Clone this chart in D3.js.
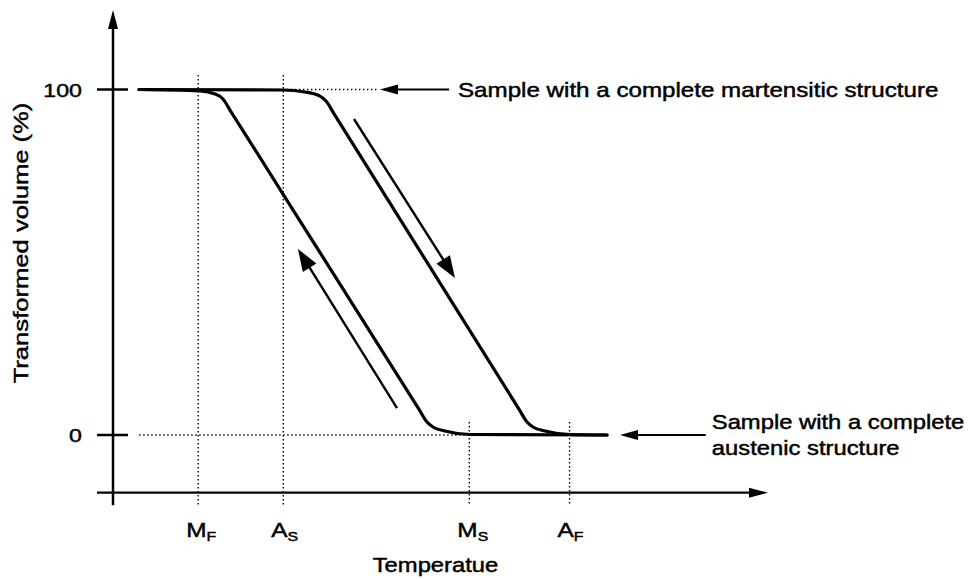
<!DOCTYPE html>
<html><head><meta charset="utf-8">
<script src="https://cdn.jsdelivr.net/npm/d3@7"></script>
<style>body{margin:0;background:#fff}svg{display:block}</style>
</head><body><svg id="c" width="968" height="579"></svg>
<script>
// ---- data ----
const yTicks = [0, 100];
const yTickLabels = ["0", "100"];
const markNames = ["M", "A", "M", "A"];
const markSubs = ["F", "S", "S", "F"];
const markTemps = [13.0, 26.0, 54.4, 69.7];
const markGuideTop = [104.2, 104.2, 3.76, 3.76];
const coolingT = [3.97, 13.28, 15.57, 16.79, 18.0, 32.0, 46.7, 47.94, 48.85, 50.69, 54.5, 75.42];
const coolingV = [100, 99.57, 98.7, 97.25, 93.62, 51.6, 7.48, 3.76, 2.32, 1.16, 0.14, 0];
const heatingT = [3.97, 25.95, 29.31, 31.6, 32.52, 33.8, 48.0, 62.0, 63.21, 64.12, 65.95, 69.77, 75.42];
const heatingV = [100, 99.86, 99.28, 98.1, 96.67, 92.79, 49.81, 7.42, 3.76, 2.32, 1.16, 0.14, 0];
const heatArrowT = [36.79, 52.21], heatArrowV = [91.46, 45.44];
const coolArrowT = [43.36, 28.24], coolArrowV = [7.81, 53.84];
const martArrowT = [51.3, 40.76], martArrowV = [100, 100];
const austArrowT = [90.5, 77.4], austArrowV = [0, 0];
const guide100T = [3.97, 40.3], guide0T = [4.0, 54.5];
const xAxisT = [-2.44, 100], xAxisV = -16.7;
const yAxisV = [-20.3, 123];
const annotMart = ["Sample with a complete martensitic structure"];
const annotAust = ["Sample with a complete", "austenic structure"];
const xTitle = "Temperatue";
const yTitle = "Transformed volume (%)";

// ---- scales ----
const x = d3.scaleLinear().domain([0, 100]).range([113, 768]);
const y = d3.scaleLinear().domain([0, 100]).range([435, 89.5]);
const svg = d3.select("#c");
const FONT = "'Liberation Sans', Arial, sans-serif";
const SX = 1.22;

function head(x1, y1, x2, y2, len, hw) {
  const dx = x2 - x1, dy = y2 - y1, L = Math.hypot(dx, dy);
  const ux = dx / L, uy = dy / L, bx = x2 - ux * len, by = y2 - uy * len;
  return `M${x2},${y2}L${bx - uy * hw},${by + ux * hw}L${bx + uy * hw},${by - ux * hw}Z`;
}
function arrow(x1, y1, x2, y2, w, len, hw) {
  const dx = x2 - x1, dy = y2 - y1, L = Math.hypot(dx, dy);
  const ex = x2 - dx / L * len * 0.8, ey = y2 - dy / L * len * 0.8;
  svg.append("line").attr("x1", x1).attr("y1", y1).attr("x2", ex).attr("y2", ey)
    .attr("stroke", "#000").attr("stroke-width", w);
  svg.append("path").attr("d", head(x1, y1, x2, y2, len, hw)).attr("fill", "#000");
}
function txt(px, py, s, size, anchor, rot) {
  const t = svg.append("text")
    .attr("transform", `translate(${px},${py})${rot ? " rotate(" + rot + ")" : ""} scale(${SX},1)`)
    .attr("font-family", FONT).attr("font-size", size).attr("text-anchor", anchor || "start")
    .attr("fill", "#000").attr("stroke", "#000").attr("stroke-width", 0.45).text(s);
  return t;
}
const dotted = { stroke: "#000", "stroke-width": 1.4, "stroke-dasharray": "1.4 2.6" };
function dline(x1, y1, x2, y2) {
  const l = svg.append("line").attr("x1", x1).attr("y1", y1).attr("x2", x2).attr("y2", y2);
  for (const k in dotted) l.attr(k, dotted[k]);
}

// ---- guides ----
dline(x(guide100T[0]), y(100), x(guide100T[1]), y(100));
dline(x(guide0T[0]), y(0), x(guide0T[1]), y(0));
markTemps.forEach((t, i) => dline(x(t), y(markGuideTop[i]), x(t), y(yAxisV[0])));

// ---- axes ----
svg.append("line").attr("x1", x(0)).attr("x2", x(0)).attr("y1", y(yAxisV[0])).attr("y2", y(yAxisV[1]) + 14)
  .attr("stroke", "#000").attr("stroke-width", 2.5);
svg.append("path").attr("d", head(x(0), y(yAxisV[0]), x(0), y(yAxisV[1]), 19, 5)).attr("fill", "#000");
svg.append("line").attr("x1", x(xAxisT[0])).attr("x2", x(xAxisT[1]) - 14).attr("y1", y(xAxisV)).attr("y2", y(xAxisV))
  .attr("stroke", "#000").attr("stroke-width", 2.2);
svg.append("path").attr("d", head(x(xAxisT[0]), y(xAxisV), x(xAxisT[1]), y(xAxisV), 19, 5)).attr("fill", "#000");
yTicks.forEach((v, i) => {
  svg.append("line").attr("x1", x(0) - 16).attr("x2", x(0) + 15).attr("y1", y(v)).attr("y2", y(v))
    .attr("stroke", "#000").attr("stroke-width", 2.5);
  txt(x(0) - 31, y(v) + 7, yTickLabels[i], 19, "end");
});

// ---- curves ----
const line = d3.line().x(d => x(d[0])).y(d => y(d[1])).curve(d3.curveMonotoneX);
[[coolingT, coolingV], [heatingT, heatingV]].forEach(([T, V]) => {
  svg.append("path").attr("d", line(T.map((t, i) => [t, V[i]])))
    .attr("fill", "none").attr("stroke", "#000").attr("stroke-width", 3.2)
    .attr("stroke-linecap", "round").attr("stroke-linejoin", "round");
});

// ---- direction arrows ----
arrow(x(heatArrowT[0]), y(heatArrowV[0]), x(heatArrowT[1]), y(heatArrowV[1]), 2.4, 22, 8);
arrow(x(coolArrowT[0]), y(coolArrowV[0]), x(coolArrowT[1]), y(coolArrowV[1]), 2.4, 22, 8);
arrow(x(martArrowT[0]), y(martArrowV[0]), x(martArrowT[1]), y(martArrowV[1]), 2.2, 18, 5);
arrow(x(austArrowT[0]), y(austArrowV[0]), x(austArrowT[1]), y(austArrowV[1]), 2.2, 18, 5);

// ---- labels ----
txt(x(martArrowT[0]) + 9, y(100) + 7, annotMart[0], 19.8, "start");
txt(x(austArrowT[0]) + 6, y(0) - 6, annotAust[0], 19.5, "start");
txt(x(austArrowT[0]) + 6, y(0) + 20, annotAust[1], 19.5, "start");

markTemps.forEach((t, i) => {
  const g = txt(x(t) - 12, 537, "", 20, "start");
  g.append("tspan").text(markNames[i]);
  g.append("tspan").attr("font-size", 13).attr("dy", 4).text(markSubs[i]);
});
txt(x(50) - 5, 572, xTitle, 19.5, "middle");
txt(28, 243, yTitle, 21, "middle", -90);
</script></body></html>
